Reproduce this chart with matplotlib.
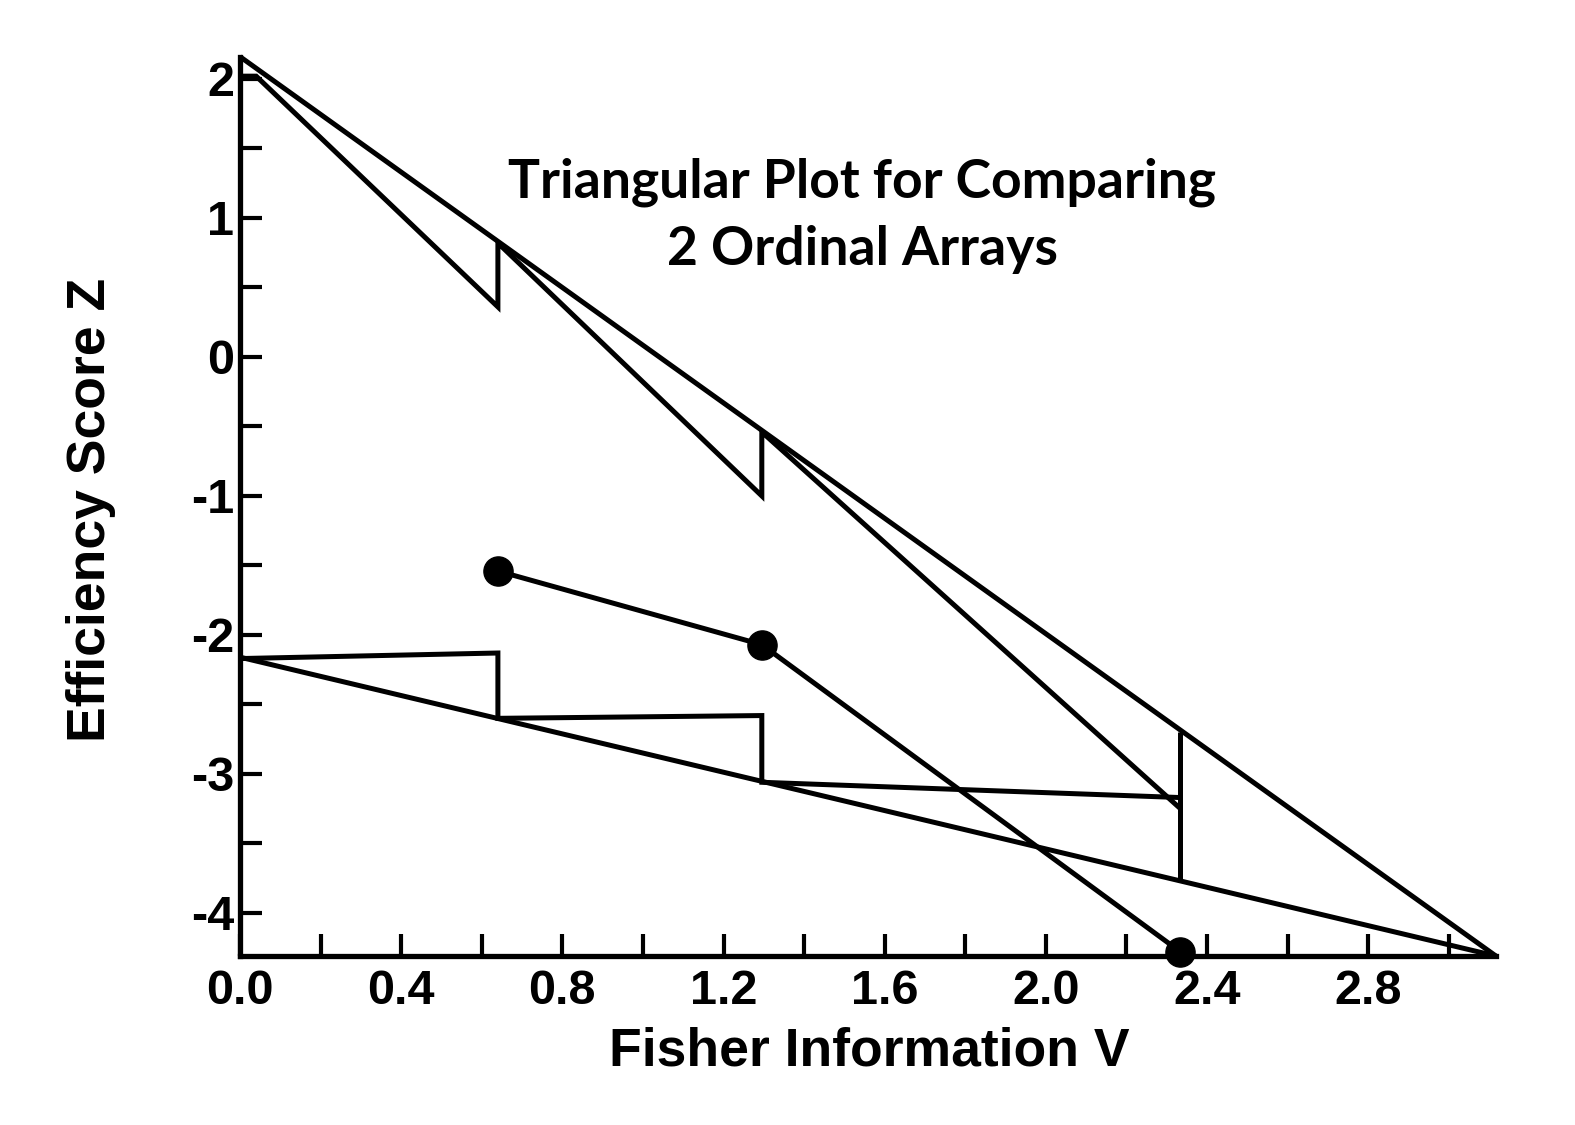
import matplotlib
matplotlib.use("Agg")
import matplotlib.pyplot as plt
from matplotlib.ticker import FixedLocator, FixedFormatter

# ---- data ----
boundary_V = [0.0, 3.117]
upper_boundary_Z = [2.16, -4.31]
lower_boundary_Z = [-2.16, -4.31]

upper_step_V = [0.0, 0.04, 0.64, 0.64, 1.295, 1.295, 2.334]
upper_step_Z = [2.02, 2.02, 0.36, 0.82, -1.00, -0.54, -3.25]

lower_step_V = [0.0, 0.64, 0.64, 1.295, 1.295, 2.334]
lower_step_Z = [-2.17, -2.13, -2.60, -2.58, -3.06, -3.17]

final_look_V = [2.334, 2.334]
final_look_Z = [-2.70, -3.77]

data_V = [0.64, 1.295, 2.334]
data_Z = [-1.54, -2.07, -4.28]

x_major = [0.0, 0.4, 0.8, 1.2, 1.6, 2.0, 2.4, 2.8]
x_major_labels = ["0.0", "0.4", "0.8", "1.2", "1.6", "2.0", "2.4", "2.8"]
x_minor = [0.2, 0.6, 1.0, 1.4, 1.8, 2.2, 2.6, 3.0]
y_major = [2, 1, 0, -1, -2, -3, -4]
y_major_labels = ["2", "1", "0", "-1", "-2", "-3", "-4"]
y_minor = [1.5, 0.5, -0.5, -1.5, -2.5, -3.5]

title_text = "Triangular Plot for Comparing\n2 Ordinal Arrays"
x_label = "Fisher Information V"
y_label = "Efficiency Score Z"

# ---- figure ----
fig = plt.figure(figsize=(15.75, 11.25), dpi=100)
ax = fig.add_axes([0.1524, 0.1502, 0.9498 - 0.1524, 0.9496 - 0.1502])

lw = 3.6
kw = dict(color="black", lw=lw, clip_on=False, solid_joinstyle="miter", solid_capstyle="butt")
ax.plot(boundary_V, upper_boundary_Z, **kw)
ax.plot(boundary_V, lower_boundary_Z, **kw)
ax.plot(upper_step_V, upper_step_Z, **kw)
ax.plot(lower_step_V, lower_step_Z, **kw)
ax.plot(final_look_V, final_look_Z, **kw)
ax.plot(data_V, data_Z, color="black", lw=lw, marker="o", ms=21, clip_on=False, zorder=5)

ax.set_xlim(0, 3.117)
ax.set_ylim(-4.31, 2.16)

for s in ["top", "right"]:
    ax.spines[s].set_visible(False)
for s in ["left", "bottom"]:
    ax.spines[s].set_linewidth(3.8)

ax.xaxis.set_major_locator(FixedLocator(x_major))
ax.xaxis.set_major_formatter(FixedFormatter(x_major_labels))
ax.xaxis.set_minor_locator(FixedLocator(x_minor))
ax.yaxis.set_major_locator(FixedLocator(y_major))
ax.yaxis.set_major_formatter(FixedFormatter(y_major_labels))
ax.yaxis.set_minor_locator(FixedLocator(y_minor))

ax.tick_params(axis="both", which="both", direction="in", length=16, width=3.0)
ax.tick_params(axis="x", which="major", pad=9)
ax.tick_params(axis="y", which="major", pad=4)

for lab in ax.get_xticklabels() + ax.get_yticklabels():
    lab.set_fontfamily("Liberation Sans")
    lab.set_fontweight("bold")
    lab.set_fontsize(35)

fig.text(0.5517, 0.0649, x_label, ha="center", va="center",
         fontfamily="Liberation Sans", fontweight="bold", fontsize=38.5)
fig.text(0.058, 0.547, y_label, ha="center", va="center", rotation=90,
         fontfamily="Liberation Sans", fontweight="bold", fontsize=38.5)

fig.text(0.5475, 0.808, title_text, ha="center", va="center",
         fontfamily="Lato", fontweight="bold", fontsize=38.5, linespacing=1.45)

fig.savefig("out.png", dpi=100, facecolor="white")
